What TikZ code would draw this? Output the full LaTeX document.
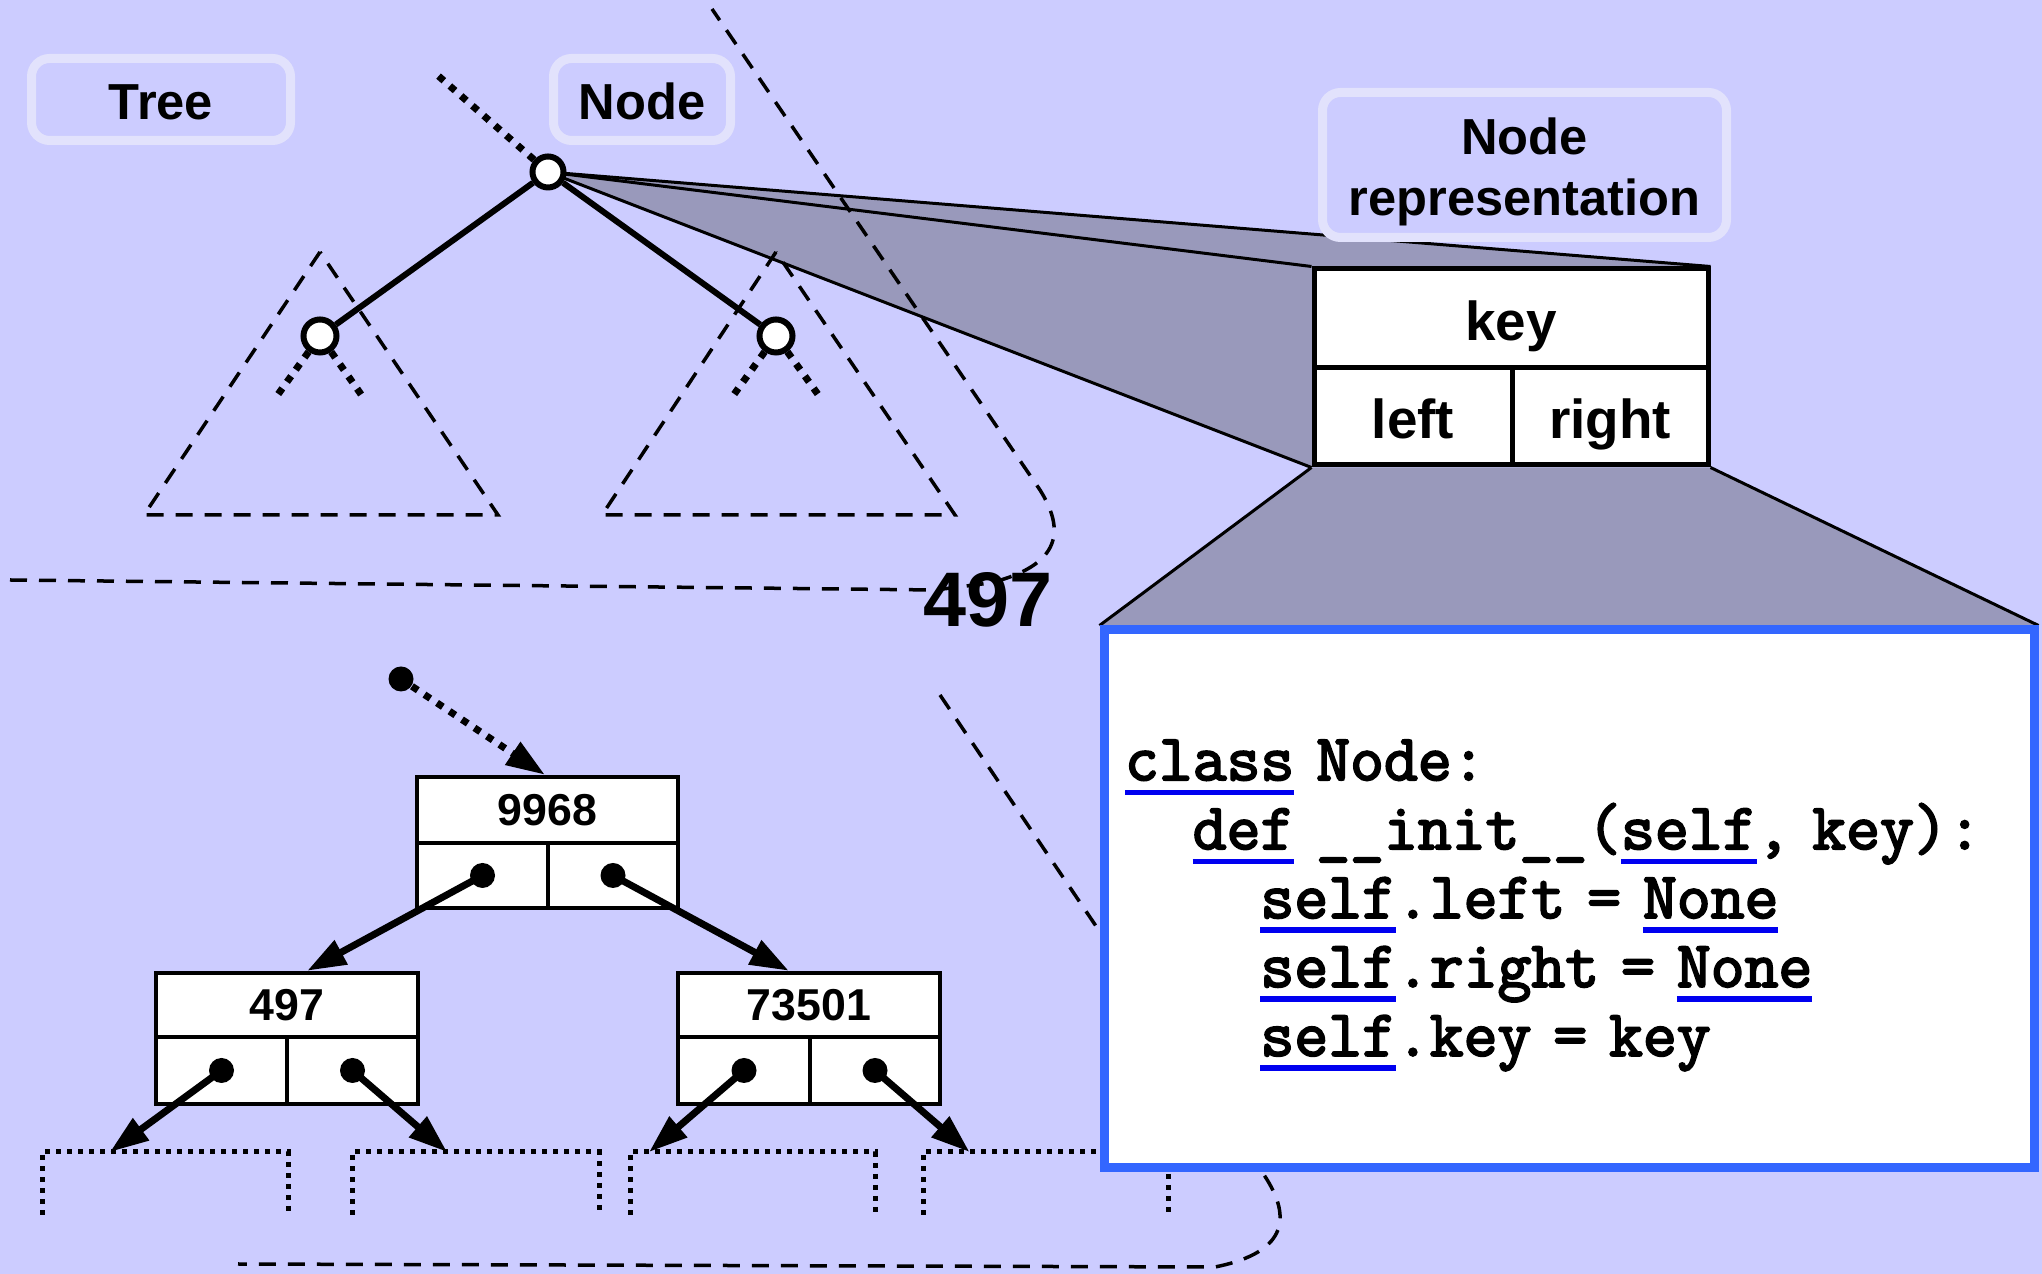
\documentclass[tikz,border=0pt]{standalone}
\usepackage{fontspec}
\setmainfont{Liberation Sans}
\newfontfamily\codefont[FakeBold=3]{Latin Modern Mono}
\usetikzlibrary{arrows.meta,calc}
\newdimen\pxu \pxu=0.01cm
\definecolor{bg}{RGB}{204,204,255}
\definecolor{labline}{RGB}{226,226,252}
\definecolor{shadecol}{RGB}{153,153,187}
\definecolor{codeblue}{RGB}{51,102,255}
\definecolor{kwblue}{RGB}{0,0,240}
\newsavebox\kwbox
\newcommand{\kwd}[1]{\sbox\kwbox{#1}\textcolor{kwblue}{\rlap{\rule[-15\pxu]{\wd\kwbox}{5.5\pxu}}\usebox\kwbox}}
\pgfdeclarelayer{back}\pgfdeclarelayer{mid}\pgfsetlayers{back,mid,main}
\tikzset{
 lbl/.style={draw=labline, line width=9\pxu, rounded corners=18\pxu, fill=bg, inner sep=0pt, align=center, font=\bfseries\fontsize{14.4}{17.4}\selectfont},
 tnode/.style={circle, draw=black, fill=white, line width=6\pxu, inner sep=0pt, minimum size=31\pxu},
 treeedge/.style={line width=6\pxu},
 dotfat/.style={line width=7\pxu, dash pattern=on 7\pxu off 8\pxu},
 dashln/.style={line width=3.5\pxu, dash pattern=on 17\pxu off 12\pxu},
 shadeln/.style={line width=3\pxu},
 kcell/.style={draw, fill=white, line width=5\pxu, inner sep=0pt, text height=45\pxu, text depth=0pt, font=\bfseries\fontsize{15.6}{18}\selectfont},
 vcell/.style={draw, fill=white, line width=4.5\pxu, inner sep=0pt, font=\bfseries\fontsize{12.7}{15}\selectfont},
 ptrdot/.style={circle, fill=black, inner sep=0pt, minimum size=25\pxu},
 ptr/.style={line width=7\pxu, -{Triangle[length=11pt,width=7.4pt]}},
 ptrdotted/.style={ptr, dash pattern=on 7\pxu off 8\pxu},
 bracketln/.style={line width=5\pxu, dash pattern=on 5\pxu off 6\pxu},
}
\begin{document}
\begin{tikzpicture}[x=0.01cm,y=-0.01cm]
\useasboundingbox (0,0) rectangle (2042,1274);
\begin{pgfonlayer}{back}
\fill[bg] (0,0) rectangle (2042,1274);
\end{pgfonlayer}

% dashed guide lines
\draw[dashln] (10,580) -- (935,590) -- (990,583) .. controls (1062,565) and (1065,530) .. (1040,490) -- (712,9);
\draw[dashln] (940,695) -- (1262,1172) .. controls (1292,1215) and (1290,1252) .. (1215,1267) -- (238,1264);

% subtree triangles
\draw[dashln] (320,252) -- (144,515) -- (498,515) -- cycle;
\draw[dashln] (776,252) -- (602,515) -- (955,515) -- cycle;

% labels
\node[lbl, minimum width=259\pxu, minimum height=82\pxu] (treelbl) at (161,99.5) {\rule{0pt}{41\pxu}Tree};
\node[lbl, minimum width=177\pxu, minimum height=82\pxu] (nodelbl) at (642,99.5) {\rule{0pt}{41\pxu}Node};
\node[lbl, minimum width=404\pxu, minimum height=145\pxu] (replbl) at (1524.5,165) {\rule{0pt}{50\pxu}Node\\representation};

% abstract tree
\node[tnode] (root) at (548,172) {};
\node[tnode, minimum size=33\pxu] (lc) at (320,336) {};
\node[tnode, minimum size=33\pxu] (rc) at (776,336) {};
\coordinate (rootup) at (435,73);
\coordinate (lcl) at (274,400);
\coordinate (lcr) at (365,400);
\coordinate (rcl) at (730,400);
\coordinate (rcr) at (822,400);
\draw[dotfat] (root) -- (rootup);
\draw[dotfat] (lc) -- (lcl);
\draw[dotfat] (lc) -- (lcr);
\draw[dotfat] (rc) -- (rcl);
\draw[dotfat] (rc) -- (rcr);
\draw[treeedge] (root) -- (lc);
\draw[treeedge] (root) -- (rc);

% node representation box
\node[kcell, minimum width=394\pxu, minimum height=99\pxu] (keyc) at (1511,318.5) {key};
\node[kcell, minimum width=198\pxu, minimum height=97\pxu] (leftc) at (1413,416.5) {left};
\node[kcell, minimum width=196\pxu, minimum height=97\pxu] (rightc) at (1610,416.5) {right};

% code box
\node[draw=codeblue, line width=9\pxu, fill=white, minimum width=930\pxu, minimum height=538\pxu,
      text width=888\pxu, inner xsep=21\pxu, inner ysep=0pt, align=left,
      font=\codefont\fontsize{18.7}{19.6}\selectfont\frenchspacing] (code) at (1569,899)
 {\rule{0pt}{53\pxu}\kwd{class} Node:\\
  \phantom{xx}\kwd{def} \_\_init\_\_(\kwd{self}, key):\\
  \phantom{xxxx}\kwd{self}.left = \kwd{None}\\
  \phantom{xxxx}\kwd{self}.right = \kwd{None}\\
  \phantom{xxxx}\kwd{self}.key = key};

% shading (behind)
\begin{pgfonlayer}{mid}
\fill[shadecol] (root.center) -- (keyc.north east) -- (leftc.south west) -- cycle;
\draw[shadeln] (root.center) -- (keyc.north east);
\draw[shadeln] (root.center) -- (keyc.north west);
\draw[shadeln] (root.center) -- (leftc.south west);
\fill[shadecol] (leftc.south west) -- (rightc.south east) -- (code.north east) -- (code.north west) -- cycle;
\draw[shadeln] (leftc.south west) -- (code.north west);
\draw[shadeln] (rightc.south east) -- (code.north east);
\end{pgfonlayer}

% concrete tree
\coordinate (b1l) at (42,1152);  \coordinate (b1r) at (288,1152);
\coordinate (b2l) at (352,1152); \coordinate (b2r) at (599,1152);
\coordinate (b3l) at (630,1152); \coordinate (b3r) at (875,1152);
\coordinate (b4l) at (923,1152); \coordinate (b4r) at (1168,1152);
\begin{pgfonlayer}{mid}
\draw[bracketln] (42,1215) -- (b1l) -- (b1r) -- (288,1215);
\draw[bracketln] (352,1215) -- (b2l) -- (b2r) -- (599,1215);
\draw[bracketln] (630,1215) -- (b3l) -- (b3r) -- (875,1215);
\draw[bracketln] (923,1215) -- (b4l) -- (b4r) -- (1168,1215);
\end{pgfonlayer}

\node[vcell, minimum width=261\pxu, minimum height=66\pxu] (k9968) at (547.5,810) {9968};
\node[vcell, minimum width=131\pxu, minimum height=65\pxu] (l9968) at (482.5,875.5) {};
\node[vcell, minimum width=130\pxu, minimum height=65\pxu] (r9968) at (613,875.5) {};
\node[vcell, minimum width=262\pxu, minimum height=64\pxu] (k497) at (287,1005) {497};
\node[vcell, minimum width=131\pxu, minimum height=67\pxu] (l497) at (221.5,1070.5) {};
\node[vcell, minimum width=131\pxu, minimum height=67\pxu] (r497) at (352.5,1070.5) {};
\node[vcell, minimum width=262\pxu, minimum height=64\pxu] (k73501) at (809,1005) {73501};
\node[vcell, minimum width=132\pxu, minimum height=67\pxu] (l73501) at (744,1070.5) {};
\node[vcell, minimum width=130\pxu, minimum height=67\pxu] (r73501) at (875,1070.5) {};

\node[ptrdot] (start) at (401,679) {};
\node[ptrdot] (d1) at (l9968.center) {};
\node[ptrdot] (d2) at (r9968.center) {};
\node[ptrdot] (d3) at (l497.center) {};
\node[ptrdot] (d4) at (r497.center) {};
\node[ptrdot] (d5) at (l73501.center) {};
\node[ptrdot] (d6) at (r73501.center) {};

\draw[ptrdotted] (start) -- ($(k9968.north west)!0.49!(k9968.north east)$);
\draw[ptr] (d1.center) -- ($(k497.north west)!0.576!(k497.north east)$);
\draw[ptr] (d2.center) -- ($(k73501.north west)!0.424!(k73501.north east)$);
\draw[ptr] (d3.center) -- ($(b1l)!0.276!(b1r)$);
\draw[ptr] (d4.center) -- ($(b2l)!0.385!(b2r)$);
\draw[ptr] (d5.center) -- ($(b3l)!0.078!(b3r)$);
\draw[ptr] (d6.center) -- ($(b4l)!0.19!(b4r)$);

% big label
\node[font=\bfseries\fontsize{22}{26}\selectfont, inner sep=0pt] (big) at (988,600) {497};
\end{tikzpicture}
\end{document}
